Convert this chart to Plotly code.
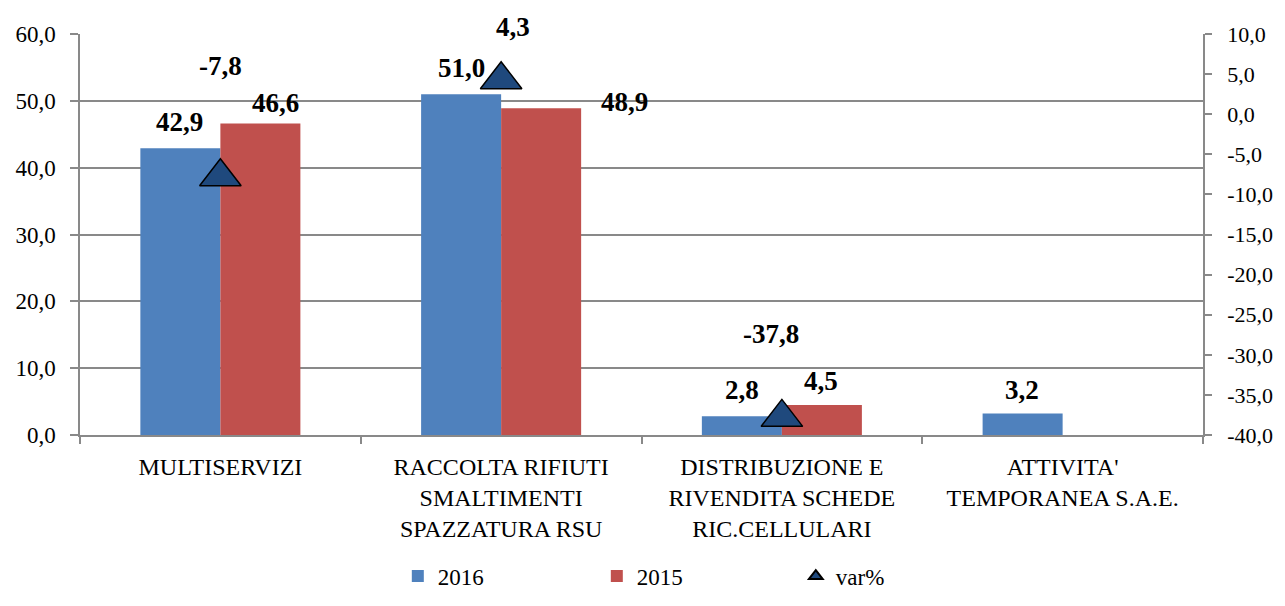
import plotly.graph_objects as go

categories = ["MULTISERVIZI",
              "RACCOLTA RIFIUTI<br>SMALTIMENTI<br>SPAZZATURA RSU",
              "DISTRIBUZIONE E<br>RIVENDITA SCHEDE<br>RIC.CELLULARI",
              "ATTIVITA'<br>TEMPORANEA S.A.E."]
values_2016 = [42.9, 51.0, 2.8, 3.2]
values_2015 = [46.6, 48.9, 4.5, None]
var_pct = [-7.8, 4.3, -37.8, None]

left_ticks = [0, 10, 20, 30, 40, 50, 60]
left_tick_labels = ["0,0", "10,0", "20,0", "30,0", "40,0", "50,0", "60,0"]
right_ticks = [-40, -35, -30, -25, -20, -15, -10, -5, 0, 5, 10]
right_tick_labels = ["-40,0", "-35,0", "-30,0", "-25,0", "-20,0", "-15,0",
                     "-10,0", "-5,0", "0,0", "5,0", "10,0"]

# label offsets (pixels) -- style only
off_2016 = [(-41, 26), (-40, 26), (-40, 26), (-41, 24)]
off_2015 = [(55, 21), (123, 6), (39, 24), (0, 0)]
off_var = [(0, 111), (12, 53), (-11, 83), (0, 0)]

BLUE = "#4F81BD"
RED = "#C0504D"
NAVY = "#1F497D"
GRID = "#898989"
FONT = "Liberation Serif, Times New Roman, Times, serif"

def fmt(v):
    return f"{v:.1f}".replace(".", ",")

fig = go.Figure()
fig.add_trace(go.Bar(x=categories, y=values_2016, name="2016",
                     marker=dict(color=BLUE, line=dict(width=0))))
fig.add_trace(go.Bar(x=categories, y=values_2015, name="2015",
                     marker=dict(color=RED, line=dict(width=0))))
fig.add_trace(go.Scatter(x=categories, y=var_pct, name="var%", yaxis="y2",
                         mode="markers",
                         marker=dict(symbol="triangle-up", size=36, color=NAVY,
                                     line=dict(color="black", width=1.5))))

LABEL_FONT = dict(family=FONT, size=27, color="black")
ann = []
for c, v, (dx, dy) in zip(categories, values_2016, off_2016):
    if v is not None:
        ann.append(dict(x=c, y=v, xref="x", yref="y", text=f"<b>{fmt(v)}</b>",
                        showarrow=False, xshift=dx, yshift=dy, font=LABEL_FONT))
for c, v, (dx, dy) in zip(categories, values_2015, off_2015):
    if v is not None:
        ann.append(dict(x=c, y=v, xref="x", yref="y", text=f"<b>{fmt(v)}</b>",
                        showarrow=False, xshift=dx, yshift=dy, font=LABEL_FONT))
for c, v, (dx, dy) in zip(categories, var_pct, off_var):
    if v is not None:
        ann.append(dict(x=c, y=v, xref="x", yref="y2", text=f"<b>{fmt(v)}</b>",
                        showarrow=False, xshift=dx, yshift=dy, font=LABEL_FONT))

fig.update_layout(
    width=1277, height=598,
    margin=dict(l=72, r=82, t=26, b=171),
    paper_bgcolor="white", plot_bgcolor="white",
    font=dict(family=FONT, size=23, color="black"),
    barmode="group", bargap=0.43, bargroupgap=0,
    showlegend=True,
    legend=dict(orientation="h", xref="paper", x=0.283, xanchor="left",
                yref="container", y=0.05, yanchor="middle",
                font=dict(family=FONT, size=23),
                entrywidth=154, entrywidthmode="pixels",
                itemsizing="constant"),
    annotations=ann,
    xaxis=dict(showline=True, linecolor=GRID, linewidth=1.5,
               ticks="outside", tickson="boundaries", ticklen=7,
               tickcolor=GRID, tickwidth=1.5, showgrid=False,
               ticklabelstandoff=9, automargin=False,
               tickfont=dict(family=FONT, size=24)),
    yaxis=dict(range=[0, 60], tickvals=left_ticks, ticktext=left_tick_labels,
               showline=True, linecolor=GRID, linewidth=1.5,
               ticks="outside", ticklen=8, tickcolor=GRID, tickwidth=1.5,
               showgrid=True, gridcolor=GRID, gridwidth=1.5,
               zeroline=False, ticklabelstandoff=10, automargin=False,
               tickfont=dict(family=FONT, size=23)),
    yaxis2=dict(range=[-40, 10], tickvals=right_ticks, ticktext=right_tick_labels,
                overlaying="y", side="right",
                showline=True, linecolor=GRID, linewidth=1.5,
                ticks="outside", ticklen=7, tickcolor=GRID, tickwidth=1.5,
                showgrid=False, zeroline=False, ticklabelstandoff=11,
                automargin=False,
                tickfont=dict(family=FONT, size=22)),
)

fig.write_html("out.html")
